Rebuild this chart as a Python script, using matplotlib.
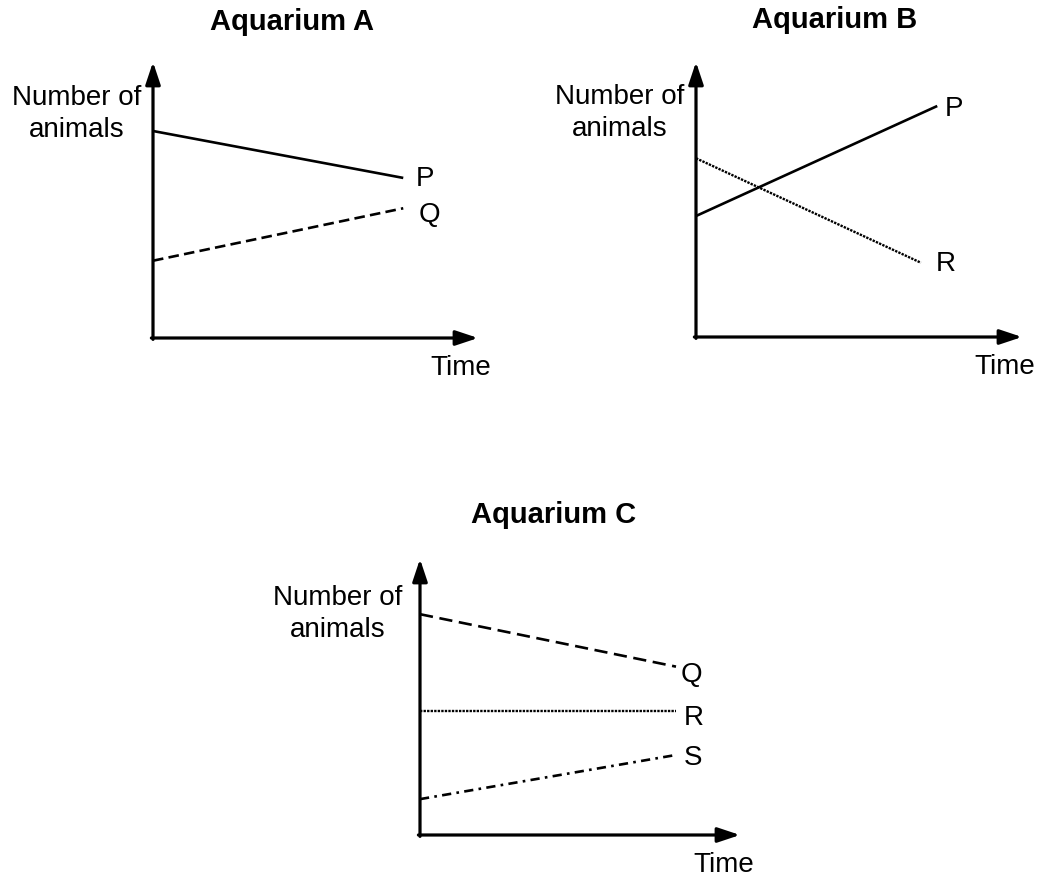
import matplotlib
matplotlib.use("Agg")
import matplotlib.pyplot as plt

plt.rcParams['font.family'] = ['Liberation Sans', 'DejaVu Sans']

# ---- data (arbitrary units: time 0..10, number 0..10 up to arrow tips) ----
time_A = [0, 7.7]
A_P = [7.5, 5.8]
A_Q = [2.8, 4.7]

time_B_P = [0, 7.4]
B_P = [4.4, 8.4]
time_B_R = [0, 6.9]
B_R = [6.5, 2.7]

time_C = [0, 8.0]
C_Q = [8.0, 6.1]
C_R = [4.5, 4.5]
C_S = [1.3, 2.9]

titles = ["Aquarium A", "Aquarium B", "Aquarium C"]
y_label = "Number of\nanimals"
x_label = "Time"

W, H = 1044, 879
fig = plt.figure(figsize=(W / 100, H / 100), dpi=100)
fig.patch.set_facecolor("white")

def px_axes(x0, x1, ytop, ybot):
    return fig.add_axes([x0 / W, 1 - ybot / H, (x1 - x0) / W, (ybot - ytop) / H])

LW = 1.9
FS = 20

def setup(ax, title, title_pos, ylab_pos):
    ax.set_xlim(0, 10)
    ax.set_ylim(0, 10)
    ax.axis("off")
    arrow = dict(arrowstyle="-|>,head_length=0.9,head_width=0.3", lw=2.3,
                 color="black", shrinkA=0, shrinkB=0, mutation_scale=15)
    ax.annotate("", xy=(0, 1), xytext=(0, -0.005), xycoords="axes fraction",
                arrowprops=arrow, annotation_clip=False)
    ax.annotate("", xy=(1, 0), xytext=(-0.005, 0), xycoords="axes fraction",
                arrowprops=arrow, annotation_clip=False)
    ax.text(title_pos[0], title_pos[1], title, transform=ax.transAxes,
            ha="center", va="center", fontsize=FS + 1, fontweight="bold")
    ax.text(ylab_pos[0], ylab_pos[1], y_label, transform=ax.transAxes,
            ha="center", va="center", fontsize=FS, multialignment="center",
            linespacing=1.3)
    ax.text(0.948, -0.105, x_label, transform=ax.transAxes,
            ha="center", va="center", fontsize=FS)

def series(ax, t, v, name, ls, off, lw=LW):
    ax.plot(t, v, color="black", lw=lw, linestyle=ls, clip_on=False,
            solid_capstyle="butt", dash_capstyle="butt")
    ax.annotate(name, xy=(t[-1], v[-1]), xytext=(off[0] / 1.389, -off[1] / 1.389),
                textcoords="offset points", ha="left", va="center", fontsize=FS,
                annotation_clip=False)

# Panel A
axA = px_axes(153, 478, 63, 339)
setup(axA, titles[0], (0.428, 1.149), (-0.234, 0.815))
series(axA, time_A, A_P, "P", "-", (13, 0))
series(axA, time_A, A_Q, "Q", (0, (4, 2)), (15, 6))

# Panel B
axB = px_axes(696, 1022, 63, 338)
setup(axB, titles[1], (0.426, 1.156), (-0.233, 0.818))
series(axB, time_B_P, B_P, "P", "-", (8, 2))
series(axB, time_B_R, B_R, "R", (0, (1, 0.5)), (15, 0), lw=1.7)

# Panel C
axC = px_axes(420, 740, 560, 836)
setup(axC, titles[2], (0.416, 1.163), (-0.256, 0.804))
series(axC, time_C, C_Q, "Q", (0, (5, 2.5)), (5, 7))
series(axC, time_C, C_R, "R", (0, (1, 0.5)), (8, 6), lw=1.7)
series(axC, time_C, C_S, "S", (0, (3.5, 2, 1, 2)), (8, 2))

fig.savefig("out.png", dpi=100, facecolor="white")
